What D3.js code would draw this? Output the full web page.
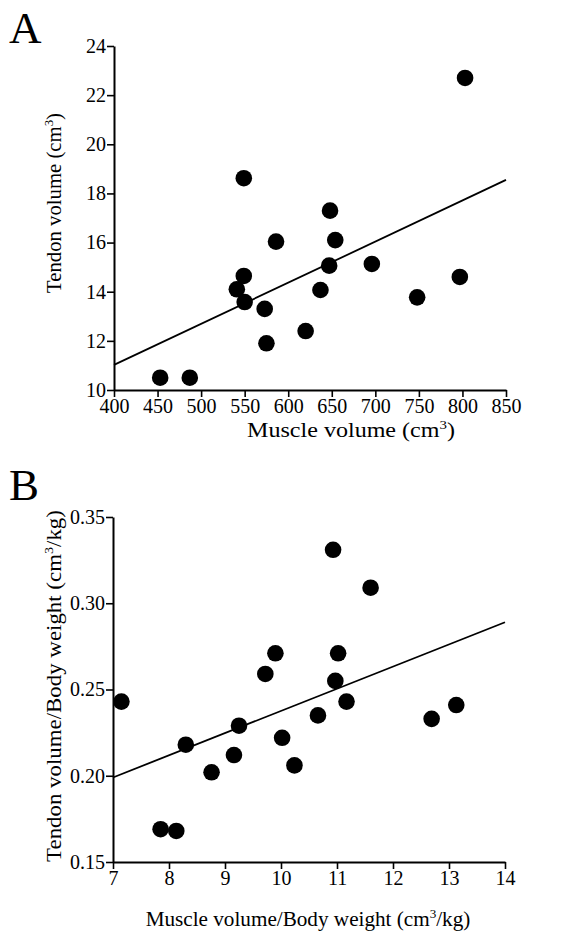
<!DOCTYPE html>
<html><head><meta charset="utf-8">
<script src="https://cdn.jsdelivr.net/npm/d3@7"></script>
<style>body{margin:0;background:#fff}svg{display:block}text{font-family:"Liberation Serif","Times New Roman",serif;fill:#000}.tick text{font-size:20px}</style>
</head><body><div id="c"></div>
<script>
// Panel A: Muscle volume (cm3) vs Tendon volume (cm3)
const aMuscle = [453, 487, 541, 549, 550, 549, 573, 575, 586, 620, 637, 648, 647, 654, 696, 748, 797, 803];
const aTendon = [10.5, 10.5, 14.1, 14.64, 13.58, 18.62, 13.3, 11.9, 16.04, 12.4, 14.07, 17.3, 15.06, 16.1, 15.13, 13.77, 14.6, 22.7];
const aFitX = [400, 850];
const aFitY = [11.02, 18.55];
const aXTicks = [400, 450, 500, 550, 600, 650, 700, 750, 800, 850];
const aYTicks = [10, 12, 14, 16, 18, 20, 22, 24];

// Panel B: Muscle volume/Body weight vs Tendon volume/Body weight
const bMuscle = [10.93, 11.6, 9.9, 11.02, 9.72, 10.97, 7.15, 11.17, 13.13, 12.69, 10.66, 9.25, 10.02, 8.3, 9.16, 10.24, 8.76, 7.85, 8.13];
const bTendon = [0.331, 0.309, 0.271, 0.271, 0.259, 0.255, 0.243, 0.243, 0.241, 0.233, 0.235, 0.229, 0.222, 0.218, 0.212, 0.206, 0.202, 0.169, 0.168];
const bFitX = [7, 14];
const bFitY = [0.199, 0.289];
const bXTicks = [7, 8, 9, 10, 11, 12, 13, 14];
const bYTicks = [0.15, 0.20, 0.25, 0.30, 0.35];

const svg = d3.select("#c").append("svg").attr("width", 586).attr("height", 935);

// label with superscript "3", stretched to a target length
function label(parent, cx, cy, parts, size, length, rotate) {
  const g = parent.append("g");
  const t = g.append("text").attr("text-anchor", "middle").style("font-size", size + "px");
  t.append("tspan").text(parts[0]);
  t.append("tspan").attr("dy", -size * 0.38).style("font-size", (size * 0.62) + "px").text("3");
  t.append("tspan").attr("dy", size * 0.38).text(parts[1]);
  const w = t.node().getBBox().width;
  const sx = length / w;
  g.attr("transform", `translate(${cx},${cy})${rotate ? " rotate(-90)" : ""} scale(${sx},1)`);
}

function panel(cfg) {
  const x = d3.scaleLinear().domain(cfg.xDomain).range([cfg.left, cfg.right]);
  const y = d3.scaleLinear().domain(cfg.yDomain).range([cfg.bottom, cfg.top]);
  const g = svg.append("g");
  const xa = g.append("g").attr("transform", `translate(0,${cfg.bottom})`)
    .call(d3.axisBottom(x).tickValues(cfg.xTicks).tickSize(7).tickPadding(2).tickFormat(cfg.xFmt).tickSizeOuter(0));
  const ya = g.append("g").attr("transform", `translate(${cfg.left},0)`)
    .call(d3.axisLeft(y).tickValues(cfg.yTicks).tickSize(7).tickPadding(1).tickFormat(cfg.yFmt).tickSizeOuter(0));
  [xa, ya].forEach(a => {
    a.attr("font-family", null).attr("font-size", null);
    a.select(".domain").attr("stroke", "#000").attr("stroke-width", 2);
    a.selectAll(".tick line").attr("stroke", "#000").attr("stroke-width", 1.6);
    a.selectAll(".tick text").style("font-size", "20px").attr("fill", "#000");
  });
  g.append("line")
    .attr("x1", x(cfg.fitX[0])).attr("y1", y(cfg.fitY[0]))
    .attr("x2", x(cfg.fitX[1])).attr("y2", y(cfg.fitY[1]))
    .attr("stroke", "#000").attr("stroke-width", 1.8);
  g.selectAll("circle").data(cfg.xs.map((v, i) => [v, cfg.ys[i]])).join("circle")
    .attr("cx", d => x(d[0])).attr("cy", d => y(d[1])).attr("r", 8.3).attr("fill", "#000");
  label(g, cfg.xLabelX, cfg.xLabelY, cfg.xLabel, cfg.xLabelSize, cfg.xLabelLen, false);
  label(g, cfg.yLabelX, cfg.yLabelY, cfg.yLabel, cfg.yLabelSize, cfg.yLabelLen, true);
  g.append("text").attr("x", 9).attr("y", cfg.letterY).style("font-size", "45px").text(cfg.letter);
}

panel({
  xs: aMuscle, ys: aTendon, fitX: aFitX, fitY: aFitY,
  xDomain: [400, 850], yDomain: [10, 24], left: 114, right: 506, top: 46, bottom: 390,
  xTicks: aXTicks, yTicks: aYTicks, xFmt: d3.format("d"), yFmt: d3.format("d"),
  xLabel: ["Muscle volume (cm", ")"], xLabelX: 351, xLabelY: 437, xLabelSize: 20, xLabelLen: 208,
  yLabel: ["Tendon volume (cm", ")"], yLabelX: 61, yLabelY: 203, yLabelSize: 21, yLabelLen: 180,
  letter: "A", letterY: 43
});
panel({
  xs: bMuscle, ys: bTendon, fitX: bFitX, fitY: bFitY,
  xDomain: [7, 14], yDomain: [0.15, 0.35], left: 113, right: 505, top: 517, bottom: 862,
  xTicks: bXTicks, yTicks: bYTicks, xFmt: d3.format("d"), yFmt: d3.format(".2f"),
  xLabel: ["Muscle volume/Body weight (cm", "/kg)"], xLabelX: 308, xLabelY: 926, xLabelSize: 21, xLabelLen: 325,
  yLabel: ["Tendon volume/Body weight (cm", "/kg)"], yLabelX: 61, yLabelY: 686, yLabelSize: 21, yLabelLen: 352,
  letter: "B", letterY: 500
});
</script></body></html>
